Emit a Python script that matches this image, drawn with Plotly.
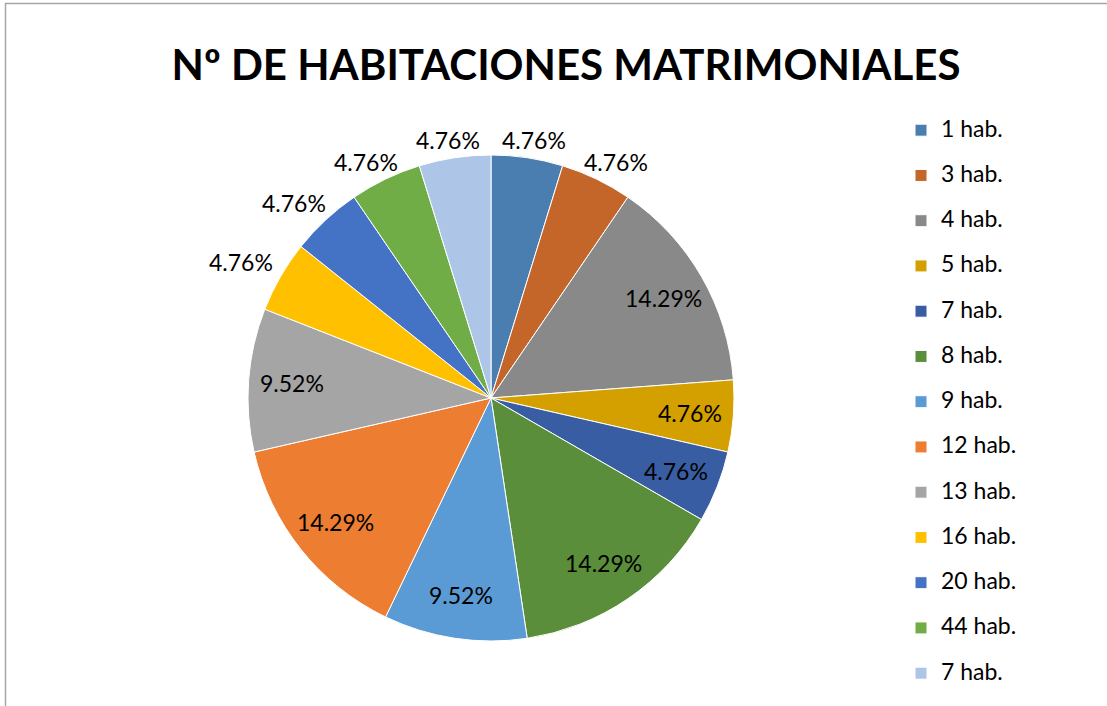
import math
import plotly.graph_objects as go

W, H = 1107, 706

labels = ["1 hab.", "3 hab.", "4 hab.", "5 hab.", "7 hab.", "8 hab.", "9 hab.",
          "12 hab.", "13 hab.", "16 hab.", "20 hab.", "44 hab.", "7 hab."]
counts = [1, 1, 3, 1, 1, 3, 2, 3, 2, 1, 1, 1, 1]
colors = ["#4A7EB1", "#C4652A", "#898989", "#D4A000", "#385DA3", "#5A8E3B", "#5B9BD5",
          "#ED7D31", "#A5A5A5", "#FFC000", "#4472C4", "#70AD47", "#ADC5E7"]
label_outside = [True, True, False, False, False, False, False,
                 False, False, True, True, True, True]
title_text = "Nº DE HABITACIONES MATRIMONIALES"

FONT = "Lato, Carlito, sans-serif"

# legend entries: an empty first line makes each legend row taller (Excel-like spacing);
# differing nbsp counts keep the two "7 hab." entries distinct
keys = ["\u00a0" * (i + 1) + f"<br><span style='font-size:23px'>{lab}</span>"
        for i, lab in enumerate(labels)]

cx, cy, r = 491, 398, 243  # pie centre / radius in px

fig = go.Figure(go.Pie(
    labels=keys,
    values=counts,
    sort=False,
    direction="clockwise",
    rotation=0,
    marker=dict(colors=colors, line=dict(color="white", width=1)),
    textinfo="none",
    domain=dict(x=[(cx - r) / W, (cx + r) / W], y=[1 - (cy + r) / H, 1 - (cy - r) / H]),
    customdata=labels,
    hovertemplate="%{customdata}: %{percent:.2%}<extra></extra>",
))

# percentage labels derived from the data (slice mid-angles)
total = sum(counts)
annotations = []
cum = 0
for c, out in zip(counts, label_outside):
    mid = (cum + c / 2) / total * 2 * math.pi
    cum += c
    s, co = math.sin(mid), math.cos(mid)
    if out:
        px = cx + (r + 6) * s + 40 * s
        py = cy - (r + 6) * co - 12
    else:
        px = cx + 0.82 * r * s
        py = cy - 0.82 * r * co
    annotations.append(dict(
        x=px / W, y=1 - py / H, xref="paper", yref="paper",
        text=f"{c / total * 100:.2f}%", showarrow=False,
        xanchor="center", yanchor="middle",
        font=dict(family=FONT, size=23, color="black"),
    ))

fig.update_layout(
    width=W, height=H,
    margin=dict(l=0, r=0, t=0, b=0),
    paper_bgcolor="white",
    title=dict(text=f"<b>{title_text}</b>", x=566 / W, xanchor="center",
               y=1 - 65 / H, yanchor="middle",
               font=dict(family=FONT, size=42, color="black")),
    legend=dict(x=901 / W, y=1 - 92 / H, xanchor="left", yanchor="top",
                font=dict(family=FONT, size=16.25, color="black"),
                valign="bottom", bgcolor="rgba(0,0,0,0)"),
    annotations=annotations,
    shapes=[dict(type="rect", xref="paper", yref="paper",
                 x0=5.5 / W, x1=1.05, y0=-0.05, y1=1 - 3.5 / H,
                 line=dict(color="#A6A6A6", width=1.5), fillcolor="rgba(0,0,0,0)", layer="below")],
)

fig.write_html("out.html", config={"displayModeBar": False},
               post_script="document.body.style.margin='0';document.body.style.overflow='hidden';")
